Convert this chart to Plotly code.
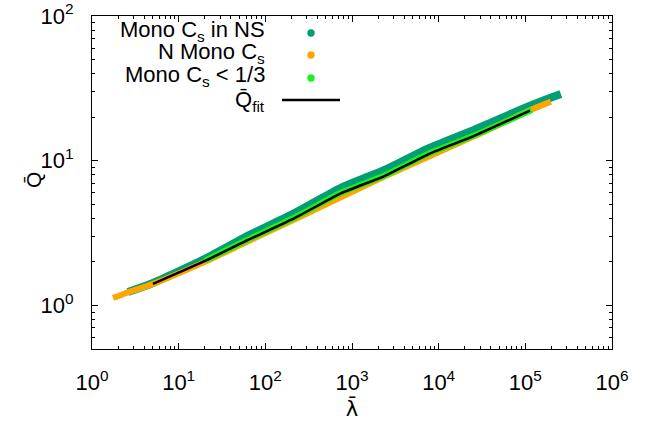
import plotly.graph_objects as go

# ---- data (lambda-bar, Q-bar) ----
ns_lam = [2.6, 5.05, 20.1, 58.2, 220, 725, 2400, 7900, 26000, 113000, 257000]
ns_q = [1.24, 1.43, 2.10, 2.96, 4.37, 6.45, 8.67, 12.3, 16.4, 24.0, 28.9]

nmono_lam = [1.75, 2.4, 5.05, 20.1, 58.2, 220, 2400, 26000, 113000, 197000]
nmono_q = [1.127, 1.21, 1.41, 2.00, 2.71, 3.94, 7.81, 14.8, 22.3, 25.6]

low_lam = [20.1, 58.2, 220, 725, 2400, 7900, 26000, 119000]
low_q = [2.04, 2.79, 4.07, 5.96, 7.93, 11.3, 15.0, 22.4]

fit_lam = [5.05, 10.1, 20.1, 58.2, 220, 725, 2400, 7900, 26000, 113000]
fit_q = [1.41, 1.69, 2.03, 2.77, 4.03, 5.91, 7.87, 11.2, 14.9, 22.2]

x_tickvals = [1, 10, 100, 1000, 10000, 100000, 1000000]
x_ticktext = ["10<sup>%d</sup>" % i for i in range(7)]
y_tickvals = [1, 10, 100]
y_ticktext = ["10<sup>0</sup>", "10<sup>1</sup>", "10<sup>2</sup>"]

legend_names = ["Mono C<sub>s</sub> in NS", "N Mono C<sub>s</sub>",
                "Mono C<sub>s</sub> &lt; 1/3", "Q\u0304<sub>fit</sub>"]

C_NS = "#009e73"
C_N = "#ffa500"
C_LOW = "#1ef01e"
C_FIT = "#000000"
FONT = "Liberation Sans, Arial, sans-serif"

fig = go.Figure()
fig.add_trace(go.Scatter(x=ns_lam, y=ns_q, mode="lines",
                         line=dict(color=C_NS, width=8, shape="spline", smoothing=0.6),
                         showlegend=False))
fig.add_trace(go.Scatter(x=nmono_lam, y=nmono_q, mode="lines",
                         line=dict(color=C_N, width=6, shape="spline", smoothing=0.6),
                         showlegend=False))
fig.add_trace(go.Scatter(x=low_lam, y=low_q, mode="lines",
                         line=dict(color=C_LOW, width=6, shape="spline", smoothing=0.6),
                         showlegend=False))
fig.add_trace(go.Scatter(x=fit_lam, y=fit_q, mode="lines",
                         line=dict(color=C_FIT, width=2.5, shape="spline", smoothing=0.6),
                         showlegend=False))

axis_common = dict(
    type="log", showgrid=False, zeroline=False, showline=True, automargin=False,
    linecolor="black", linewidth=1, mirror="allticks",
    ticks="inside", ticklen=6, tickcolor="black", tickwidth=1,
    tickmode="array", ticklabeloverflow="allow",
    tickfont=dict(family=FONT, size=22, color="black"),
    minor=dict(ticks="inside", ticklen=3, tickcolor="black", dtick="D1", showgrid=False),
)

fig.update_layout(
    width=659, height=428,
    margin=dict(l=92, r=47, t=16, b=79, autoexpand=False),
    paper_bgcolor="white", plot_bgcolor="white",
    font=dict(family=FONT, color="black"),
    xaxis=dict(axis_common, range=[0, 6], tickvals=x_tickvals, ticktext=x_ticktext,
               ticklabelstandoff=14,
               title=dict(text="\u03bb\u0304", font=dict(size=21, family="DejaVu Sans"), standoff=6)),
    yaxis=dict(axis_common, range=[-0.301, 2], tickvals=y_tickvals, ticktext=y_ticktext,
               ticklabelstandoff=13),
    showlegend=False,
)

# helpers: pixel of the reference picture -> paper coordinates of the plot area
def px_x(px):
    return (px - 92) / 520.0

def px_y(py):
    return (349 - py) / 333.0

# y-axis title
fig.add_annotation(x=px_x(33), y=px_y(180), xref="paper", yref="paper",
                   text="Q\u0304", textangle=-90, showarrow=False,
                   xanchor="center", yanchor="middle",
                   font=dict(size=21, family=FONT, color="black"))

# ---- gnuplot-style key: text on the left, sample on the right ----
rows_y = [31, 53, 76, 101]
for name, ry in zip(legend_names, rows_y):
    fig.add_annotation(x=px_x(267), y=px_y(ry), xref="paper", yref="paper",
                       text=name, showarrow=False, xanchor="right", yanchor="middle",
                       font=dict(size=22, family=FONT, color="black"))

for col, ry in zip([C_NS, C_N, C_LOW], [33, 55, 78]):
    fig.add_shape(type="circle", xref="paper", yref="paper",
                  xsizemode="pixel", ysizemode="pixel",
                  xanchor=px_x(311), yanchor=px_y(ry),
                  x0=-3.7, x1=3.7, y0=-3.7, y1=3.7,
                  fillcolor=col, line=dict(width=0))
fig.add_shape(type="line", xref="paper", yref="paper",
              x0=px_x(282), x1=px_x(340), y0=px_y(100), y1=px_y(100),
              line=dict(color="black", width=2.5))

# remove the default page margin so the figure sits at the window's top-left corner
fig.write_html("out.html",
               config={"displayModeBar": False},
               post_script="document.body.style.margin='0';document.body.style.padding='0';")
